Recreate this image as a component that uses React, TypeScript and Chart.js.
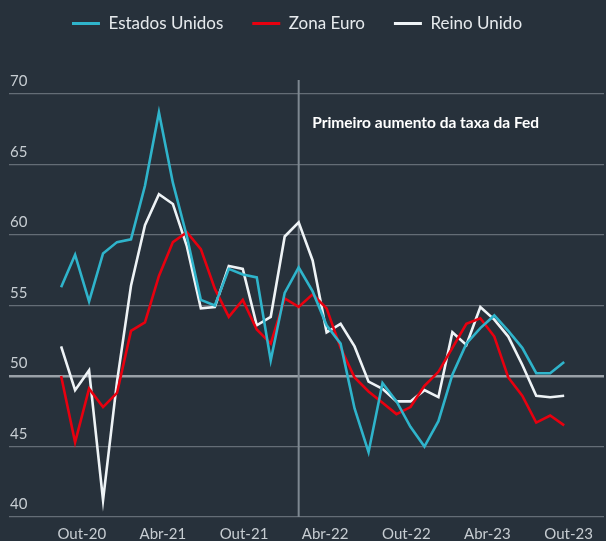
import React, { useEffect, useRef } from "react";
import { Chart, registerables } from "chart.js";

Chart.register(...registerables);

// ---- Data (monthly composite PMI, Out-20 .. Out-23) ----
const months = [
  "Out-20", "Nov-20", "Dez-20", "Jan-21", "Fev-21", "Mar-21", "Abr-21", "Mai-21", "Jun-21",
  "Jul-21", "Ago-21", "Set-21", "Out-21", "Nov-21", "Dez-21", "Jan-22", "Fev-22", "Mar-22",
  "Abr-22", "Mai-22", "Jun-22", "Jul-22", "Ago-22", "Set-22", "Out-22", "Nov-22", "Dez-22",
  "Jan-23", "Fev-23", "Mar-23", "Abr-23", "Mai-23", "Jun-23", "Jul-23", "Ago-23", "Set-23", "Out-23",
];

const estadosUnidos = [
  56.3, 58.6, 55.3, 58.7, 59.5, 59.7, 63.5, 68.7, 63.7, 59.9, 55.4, 55.0, 57.6, 57.2, 57.0,
  51.1, 55.9, 57.7, 56.0, 53.6, 52.3, 47.7, 44.6, 49.5, 48.2, 46.4, 45.0, 46.8, 50.1, 52.3,
  53.4, 54.3, 53.2, 52.0, 50.2, 50.2, 51.0,
];

const zonaEuro = [
  50.0, 45.3, 49.1, 47.8, 48.8, 53.2, 53.8, 57.1, 59.5, 60.2, 59.0, 56.2, 54.2, 55.4, 53.3,
  52.3, 55.5, 54.9, 55.8, 54.8, 52.0, 49.9, 48.9, 48.1, 47.3, 47.8, 49.3, 50.3, 52.0, 53.7,
  54.1, 52.8, 49.9, 48.6, 46.7, 47.2, 46.5,
];

const reinoUnido = [
  52.1, 49.0, 50.4, 41.2, 49.6, 56.4, 60.7, 62.9, 62.2, 59.2, 54.8, 54.9, 57.8, 57.6, 53.6,
  54.2, 59.9, 60.9, 58.2, 53.1, 53.7, 52.1, 49.6, 49.1, 48.2, 48.2, 49.0, 48.5, 53.1, 52.2,
  54.9, 54.0, 52.8, 50.8, 48.6, 48.5, 48.6,
];

const seriesNames = ["Estados Unidos", "Zona Euro", "Reino Unido"];
const seriesColors = ["#2fb4cb", "#e8000f", "#eef3f6"];

const xTickLabels = ["Out-20", "Abr-21", "Out-21", "Abr-22", "Out-22", "Abr-23", "Out-23"];

const fedHikeMonth = "Mar-22";
const fedHikeText = "Primeiro aumento da taxa da Fed";

const BG = "#27313b";
const FONT = "Lato";

const fedPlugin = {
  id: "fedLine",
  beforeDatasetsDraw(chart: any) {
    const { ctx, chartArea, scales } = chart;
    const x = scales.x.getPixelForValue(months.indexOf(fedHikeMonth));
    ctx.save();
    ctx.strokeStyle = "#7e8891";
    ctx.lineWidth = 2;
    ctx.beginPath();
    ctx.moveTo(x, chartArea.top);
    ctx.lineTo(x, chartArea.bottom);
    ctx.stroke();
    ctx.restore();
  },
  afterDatasetsDraw(chart: any) {
    const { ctx, chartArea, scales } = chart;
    const x = scales.x.getPixelForValue(months.indexOf(fedHikeMonth));
    ctx.save();
    ctx.fillStyle = "#ffffff";
    ctx.font = `bold 15.5px ${FONT}`;
    ctx.textAlign = "left";
    ctx.textBaseline = "middle";
    ctx.fillText(fedHikeText, x + 13.5, chartArea.top + 43);
    ctx.restore();
  },
};

export default function App() {
  const ref = useRef<HTMLCanvasElement | null>(null);

  useEffect(() => {
    if (!ref.current) return;
    const chart = new Chart(ref.current, {
      type: "line",
      data: {
        datasets: [estadosUnidos, zonaEuro, reinoUnido].map((vals, k) => ({
          label: seriesNames[k],
          data: vals.map((y, i) => ({ x: i, y })),
          borderColor: seriesColors[k],
          backgroundColor: seriesColors[k],
          borderWidth: 2.6,
          pointRadius: 0,
          pointHoverRadius: 0,
          tension: 0,
          fill: false,
        })),
      },
      options: {
        responsive: false,
        animation: false,
        events: [],
        layout: { padding: { top: -14, left: 7, right: 2, bottom: -10 } },
        font: { family: FONT },
        plugins: {
          tooltip: { enabled: false },
          legend: {
            display: true,
            position: "top",
            align: "center",
            labels: {
              boxWidth: 28,
              boxHeight: 3,
              padding: 29,
              color: "#e6eaed",
              font: { family: FONT, size: 17 },
              generateLabels: (c: any) =>
                Chart.defaults.plugins.legend.labels.generateLabels(c).map((l: any, i: number, arr: any[]) => ({
                  ...l,
                  text: i === arr.length - 1 ? l.text + "\u2002\u2002" : l.text,
                  lineWidth: 0,
                  fillStyle: l.strokeStyle,
                })),
            },
          },
          title: {
            display: true,
            text: "",
            weight: 500,
            font: { size: 10, lineHeight: 1 },
            padding: { top: 0, bottom: 28 },
          } as any,
        },
        scales: {
          x: {
            type: "linear",
            display: false,
            min: -3.73,
            max: 38.85,
          },
          xl: {
            type: "linear",
            position: "bottom",
            min: -0.897,
            max: 6.437,
            grid: { display: false, drawTicks: false },
            border: { display: false },
            ticks: {
              stepSize: 1,
              includeBounds: false,
              autoSkip: false,
              maxRotation: 0,
              padding: 8,
              color: "#c7cdd2",
              font: { family: FONT, size: 15 },
              callback: (v: any) => xTickLabels[Math.round(Number(v))] ?? "",
            },
          },
          y: {
            type: "linear",
            position: "left",
            min: 40,
            max: 71,
            grid: {
              drawTicks: false,
              color: (c: any) => (c.tick && c.tick.value === 50 ? "#9aa1a8" : "#646d76"),
              lineWidth: (c: any) => (c.tick && c.tick.value === 50 ? 2.6 : 1.3),
            },
            border: { display: false },
            ticks: {
              stepSize: 5,
              includeBounds: false,
              mirror: true,
              padding: 1,
              labelOffset: -12.5,
              color: "#c7cdd2",
              font: { family: FONT, size: 15 },
            },
          },
        },
      } as any,
      plugins: [fedPlugin],
    });
    return () => chart.destroy();
  }, []);

  return (
    <div style={{ position: "absolute", left: 0, top: 0, width: 606, height: 541, background: BG }}>
      <canvas ref={ref} width={606} height={541} style={{ display: "block" }} />
    </div>
  );
}
